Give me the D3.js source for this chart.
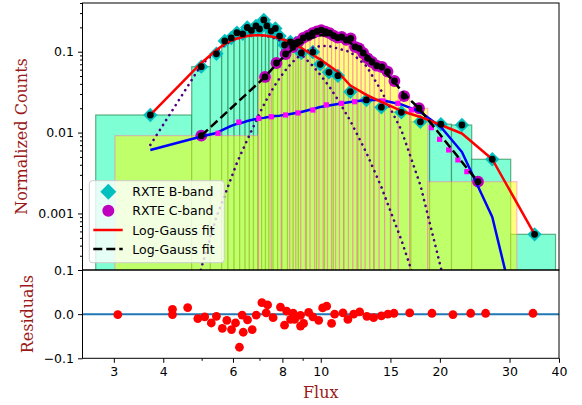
<!DOCTYPE html>
<html><head><meta charset="utf-8">
<script src="https://cdn.jsdelivr.net/npm/d3@7"></script>
<style>
body{margin:0;background:#fff;}
svg{display:block;font-family:"DejaVu Sans",sans-serif;}
</style></head><body>
<svg id="chart" width="582" height="405"></svg>
<script>
// ---------- data ----------
// B-band histogram
const bEdges = [2.70, 4.72, 5.26, 5.62, 5.83, 6.04, 6.24, 6.44, 6.60, 6.76, 6.93, 7.09, 7.25, 7.40, 7.58, 7.78, 7.98, 8.24, 8.52, 8.78, 9.20, 9.76, 10.22, 10.76, 11.42, 12.42, 13.62, 15.02, 16.90, 18.84, 21.40, 24.07, 30.20, 39.20];
const bFlux = [3.71, 4.99, 5.45, 5.72, 5.94, 6.14, 6.35, 6.52, 6.68, 6.86, 7.00, 7.18, 7.31, 7.49, 7.68, 7.87, 8.10, 8.38, 8.65, 8.93, 9.55, 9.97, 10.49, 11.05, 11.88, 13.04, 14.23, 15.98, 17.85, 20.12, 22.74, 27.13, 34.7];
const bCounts = [0.0165, 0.0653, 0.0942, 0.136, 0.148, 0.172, 0.166, 0.199, 0.183, 0.208, 0.191, 0.247, 0.208, 0.180, 0.194, 0.156, 0.121, 0.132, 0.128, 0.0964, 0.099, 0.0699, 0.0556, 0.0505, 0.032, 0.0253, 0.0206, 0.0178, 0.0136, 0.0127, 0.0124, 0.00468, 0.000552];
const bFit = [0.0165, 0.0725, 0.105, 0.1245, 0.1375, 0.1456, 0.152, 0.156, 0.1586, 0.1595, 0.1595, 0.1586, 0.1572, 0.1541, 0.1507, 0.1456, 0.1395, 0.1299, 0.121, 0.1111, 0.0910, 0.0801, 0.0675, 0.0561, 0.0382, 0.0292, 0.0239, 0.0185, 0.0156, 0.0124, 0.00975, 0.00468, 0.000552];
const blueModel = [0.0061, 0.00895, 0.00989, 0.0111, 0.0121, 0.0128, 0.0133, 0.0139, 0.0143, 0.0147, 0.0150, 0.0152, 0.0155, 0.0157, 0.0160, 0.0162, 0.0165, 0.0170, 0.0175, 0.0180, 0.0196, 0.0207, 0.0216, 0.0226, 0.0239, 0.0253, 0.0253, 0.0223, 0.0180, 0.0117, 0.00576, 0.000905, 0.0000062];
const compB = [0.00703, 0.0687, 0.1023, 0.121, 0.1345, 0.1444, 0.1523, 0.1572, 0.1595, 0.161, 0.1605, 0.1586, 0.156, 0.1515, 0.1456, 0.1387, 0.1292, 0.117, 0.1047, 0.0924, 0.0666, 0.0520, 0.0376, 0.0255, 0.01395, 0.00564, 0.00212, 0.000473, 0.000093, 0.000012, 0.0000013, 0.000000035, 0.00000000007];
const compC = [0.00000012, 0.000212, 0.000905, 0.00169, 0.00275, 0.00421, 0.0061, 0.0081, 0.01047, 0.01375, 0.01722, 0.02195, 0.02595, 0.0321, 0.0393, 0.0470, 0.0571, 0.0695, 0.0815, 0.0926, 0.1114, 0.1176, 0.1176, 0.1095, 0.0992, 0.0666, 0.0327, 0.01077, 0.00225, 0.000212, 0.0000206, 0.00000036, 0.0000000002];
// C-band histogram
const cEdges = [3.02, 6.96, 7.50, 7.95, 8.35, 8.65, 8.90, 9.15, 9.40, 9.65, 9.90, 10.15, 10.40, 10.65, 10.90, 11.15, 11.45, 11.75, 12.05, 12.35, 12.65, 12.95, 13.30, 13.65, 14.05, 14.50, 15.00, 15.70, 16.78, 18.64, 31.30];
const cFlux = [4.99, 7.23, 7.73, 8.15, 8.50, 8.78, 9.03, 9.28, 9.53, 9.78, 10.03, 10.28, 10.53, 10.78, 11.03, 11.30, 11.60, 11.90, 12.20, 12.50, 12.80, 13.13, 13.48, 13.85, 14.28, 14.75, 15.35, 16.24, 17.71, 24.97];
const cCounts = [0.00916, 0.0487, 0.0725, 0.0937, 0.114, 0.132, 0.148, 0.158, 0.169, 0.178, 0.185, 0.177, 0.170, 0.158, 0.149, 0.152, 0.140, 0.146, 0.115, 0.110, 0.0964, 0.0829, 0.0746, 0.0671, 0.0647, 0.0566, 0.0434, 0.0283, 0.0200, 0.00247];
const cFit = [0.00916, 0.0487, 0.0705, 0.0910, 0.108, 0.121, 0.132, 0.1415, 0.150, 0.156, 0.160, 0.161, 0.1595, 0.156, 0.152, 0.1448, 0.1368, 0.128, 0.1186, 0.1089, 0.0992, 0.0885, 0.0785, 0.069, 0.0600, 0.0515, 0.0420, 0.0300, 0.0200, 0.00245];
// magenta square markers
const sqFlux = [5.50, 6.21, 6.97, 7.50, 8.15, 8.76, 9.55, 10.33, 11.27, 12.18, 13.06, 14.36, 15.67, 16.94, 19.03, 19.97, 21.05, 22.21, 23.40];
const sqVal = [0.0098, 0.0135, 0.0150, 0.0157, 0.0165, 0.0175, 0.0190, 0.0220, 0.0230, 0.0241, 0.0255, 0.0246, 0.0230, 0.0190, 0.0115, 0.00826, 0.0061, 0.00459, 0.00329];
// residuals
const resFlux = [3.07, 4.22, 4.22, 4.61, 4.89, 5.09, 5.29, 5.45, 5.64, 5.79, 5.95, 6.09, 6.23, 6.33, 6.37, 6.53, 6.71, 6.87, 7.10, 7.28, 7.34, 7.58, 7.91, 8.10, 8.20, 8.39, 8.52, 8.59, 8.89, 8.89, 9.05, 9.32, 9.55, 9.88, 10.11, 10.35, 10.65, 10.84, 11.38, 11.71, 12.11, 12.54, 13.08, 13.60, 14.23, 14.78, 15.31, 16.78, 19.10, 21.58, 23.93, 26.10, 34.38];
const resVal = [-0.001, 0.011, -0.001, 0.015, -0.010, -0.006, -0.020, -0.005, -0.032, -0.014, -0.035, -0.020, -0.075, -0.002, -0.041, -0.013, -0.035, -0.002, 0.026, 0.003, 0.021, -0.008, 0.016, -0.025, 0.007, -0.012, 0.002, -0.012, -0.027, -0.003, -0.021, 0.004, -0.006, -0.014, 0.014, 0.018, -0.021, 0.000, 0.003, -0.012, 0.000, 0.005, -0.005, -0.008, -0.004, 0.000, 0.002, 0.003, 0.002, -0.001, 0.002, 0.002, 0.002];
// ticks
const xTicks = [3, 4, 6, 8, 10, 15, 20, 30, 40];
const xMinor = [5, 7, 9];
const yTicks = [0.001, 0.01, 0.1];
const yTickLabels = ["0.001", "0.01", "0.1"];
const rTicks = [-0.1, 0.0, 0.1];
const legendLabels = ["RXTE B-band", "RXTE C-band", "Log-Gauss fit", "Log-Gauss fit"];

// ---------- layout ----------
const svg = d3.select("#chart");
const L = 82.5, R = 559, T = 3, MB = 270, RB = 358.3;
const x = d3.scaleLog().domain([2.5, 40]).range([L, R]);
const y = d3.scaleLog().domain([2e-4, 0.4]).range([MB, T]);
const yr = d3.scaleLinear().domain([-0.1, 0.1]).range([RB, MB]);

const defs = svg.append("defs");
defs.append("clipPath").attr("id", "clipMain").append("rect")
  .attr("x", L).attr("y", T).attr("width", R - L).attr("height", MB - T);
defs.append("clipPath").attr("id", "clipRes").append("rect")
  .attr("x", L).attr("y", MB).attr("width", R - L).attr("height", RB - MB);

const g = svg.append("g").attr("clip-path", "url(#clipMain)");

// B bars
g.append("g").selectAll("rect").data(bCounts).join("rect")
  .attr("x", (d, i) => x(bEdges[i]))
  .attr("width", (d, i) => x(bEdges[i + 1]) - x(bEdges[i]))
  .attr("y", d => y(d))
  .attr("height", d => MB + 5 - y(d))
  .attr("fill", "#7fffd4")
  .attr("stroke", "#2e8b57").attr("stroke-opacity", 0.7).attr("stroke-width", 1.2);

// C bars
g.append("g").selectAll("rect").data(cCounts).join("rect")
  .attr("x", (d, i) => x(cEdges[i]))
  .attr("width", (d, i) => x(cEdges[i + 1]) - x(cEdges[i]))
  .attr("y", d => y(d))
  .attr("height", d => MB + 5 - y(d))
  .attr("fill", "#ffff00").attr("fill-opacity", 0.5)
  .attr("stroke", "#ff69b4").attr("stroke-opacity", 0.45).attr("stroke-width", 1.2);

// B diamonds
const diamond = "M0,-7.2L7.2,0L0,7.2L-7.2,0Z";
g.append("g").selectAll("path").data(bCounts).join("path")
  .attr("d", diamond)
  .attr("transform", (d, i) => `translate(${x(bFlux[i])},${y(d)})`)
  .attr("fill", "#00bfbf");

// C circles
g.append("g").selectAll("circle").data(cCounts).join("circle")
  .attr("cx", (d, i) => x(cFlux[i])).attr("cy", d => y(d)).attr("r", 5.9)
  .attr("fill", "#bf00bf");

// dotted components
const lineB = d3.line().x((d, i) => x(bFlux[i])).y(d => y(d));
const lineC = d3.line().x((d, i) => x(cFlux[i])).y(d => y(d));
[compB, compC].forEach(arr => {
  g.append("path").datum(arr).attr("d", lineB)
    .attr("fill", "none").attr("stroke", "#4b0082").attr("stroke-width", 2.6)
    .attr("stroke-dasharray", "0.1 5.8").attr("stroke-linecap", "round");
});

// blue model
g.append("path").datum(blueModel).attr("d", lineB)
  .attr("fill", "none").attr("stroke", "#0000ff").attr("stroke-width", 2.5)
  .attr("stroke-linejoin", "round");

// magenta squares
g.append("g").selectAll("rect").data(sqVal).join("rect")
  .attr("x", (d, i) => x(sqFlux[i]) - 2.6).attr("y", d => y(d) - 2.6)
  .attr("width", 5.2).attr("height", 5.2).attr("fill", "#ff00ff");

// red B fit
g.append("path").datum(bFit).attr("d", lineB)
  .attr("fill", "none").attr("stroke", "#ff0000").attr("stroke-width", 2.5)
  .attr("stroke-linejoin", "round");

// black dashed C fit
g.append("path").datum(cFit).attr("d", lineC)
  .attr("fill", "none").attr("stroke", "#000").attr("stroke-width", 2.5)
  .attr("stroke-dasharray", "9 4");

// black dots
g.append("g").selectAll("circle.b").data(bCounts).join("circle")
  .attr("cx", (d, i) => x(bFlux[i])).attr("cy", d => y(d)).attr("r", 3.4).attr("fill", "#000");
g.append("g").selectAll("circle.c").data(cCounts).join("circle")
  .attr("cx", (d, i) => x(cFlux[i])).attr("cy", d => y(d)).attr("r", 3.4).attr("fill", "#000");

// ---------- residual panel ----------
const gr = svg.append("g").attr("clip-path", "url(#clipRes)");
gr.append("line").attr("x1", L).attr("x2", R).attr("y1", yr(0)).attr("y2", yr(0))
  .attr("stroke", "#1f77b4").attr("stroke-width", 2);
gr.append("g").selectAll("circle").data(resVal).join("circle")
  .attr("cx", (d, i) => x(resFlux[i])).attr("cy", d => yr(d)).attr("r", 4.4)
  .attr("fill", "#ff0000");

// ---------- spines ----------
svg.append("rect").attr("x", L).attr("y", T).attr("width", R - L).attr("height", MB - T)
  .attr("fill", "none").attr("stroke", "#000").attr("stroke-width", 1);
svg.append("rect").attr("x", L).attr("y", MB).attr("width", R - L).attr("height", RB - MB)
  .attr("fill", "none").attr("stroke", "#000").attr("stroke-width", 1);

// ---------- axes ----------
function styleAxis(sel) {
  sel.select(".domain").remove();
  sel.selectAll("text").attr("font-size", "12.5px").attr("font-family", "DejaVu Sans, sans-serif").attr("fill", "#000");
  sel.selectAll("line").attr("stroke", "#000");
}
svg.append("g").attr("transform", `translate(0,${RB})`)
  .call(d3.axisBottom(x).tickValues(xTicks).tickFormat(d3.format("d")).tickSize(4.5).tickPadding(4))
  .call(styleAxis);
svg.append("g").attr("transform", `translate(0,${RB})`)
  .call(d3.axisBottom(x).tickValues(xMinor).tickFormat("").tickSize(2.5))
  .call(styleAxis);

const yMinor = [];
[0.0001, 0.001, 0.01, 0.1].forEach(dec => {
  for (let k = 2; k <= 9; k++) { const v = dec * k; if (v >= 2e-4 && v <= 0.4) yMinor.push(v); }
});
svg.append("g").attr("transform", `translate(${L},0)`)
  .call(d3.axisLeft(y).tickValues(yTicks).tickFormat((d, i) => yTickLabels[i]).tickSize(4.5).tickPadding(4))
  .call(styleAxis);
svg.append("g").attr("transform", `translate(${L},0)`)
  .call(d3.axisLeft(y).tickValues(yMinor).tickFormat("").tickSize(2.5))
  .call(styleAxis);
svg.append("g").attr("transform", `translate(${L},0)`)
  .call(d3.axisLeft(yr).tickValues(rTicks).tickFormat(d3.format(".1f")).tickSize(4.5).tickPadding(4))
  .call(styleAxis);

// axis labels
const labColor = "#9a1a1a";
svg.append("text").attr("transform", "translate(27.3,136.5) rotate(-90)")
  .attr("text-anchor", "middle").attr("font-family", "DejaVu Serif, serif").attr("font-size", "16px")
  .attr("fill", labColor).text("Normalized Counts");
svg.append("text").attr("transform", `translate(33.3,${(MB + RB) / 2}) rotate(-90)`)
  .attr("text-anchor", "middle").attr("font-family", "DejaVu Serif, serif").attr("font-size", "16px")
  .attr("fill", labColor).text("Residuals");
svg.append("text").attr("x", (L + R) / 2).attr("y", 397.7)
  .attr("text-anchor", "middle").attr("font-family", "DejaVu Serif, serif").attr("font-size", "16px")
  .attr("fill", labColor).text("Flux");

// ---------- legend ----------
const lg = svg.append("g");
lg.append("rect").attr("x", 89.3).attr("y", 180.7).attr("width", 135).attr("height", 82)
  .attr("rx", 3).attr("fill", "#fff").attr("fill-opacity", 0.8).attr("stroke", "#cccccc");
const ly = [191.7, 210.7, 230, 249];
lg.append("path").attr("d", "M0,-8L8,0L0,8L-8,0Z").attr("transform", `translate(108.3,${ly[0]})`).attr("fill", "#00bfbf");
lg.append("circle").attr("cx", 108.3).attr("cy", ly[1]).attr("r", 6).attr("fill", "#bf00bf");
lg.append("line").attr("x1", 93.3).attr("x2", 122.7).attr("y1", ly[2]).attr("y2", ly[2])
  .attr("stroke", "#ff0000").attr("stroke-width", 2.5);
lg.append("line").attr("x1", 93.3).attr("x2", 122.7).attr("y1", ly[3]).attr("y2", ly[3])
  .attr("stroke", "#000").attr("stroke-width", 2.5).attr("stroke-dasharray", "9 4");
lg.selectAll("text").data(legendLabels).join("text")
  .attr("x", 132.3).attr("y", (d, i) => ly[i] + 4.6)
  .attr("font-size", "12.5px").attr("fill", "#000").text(d => d);
</script>
</body></html>
